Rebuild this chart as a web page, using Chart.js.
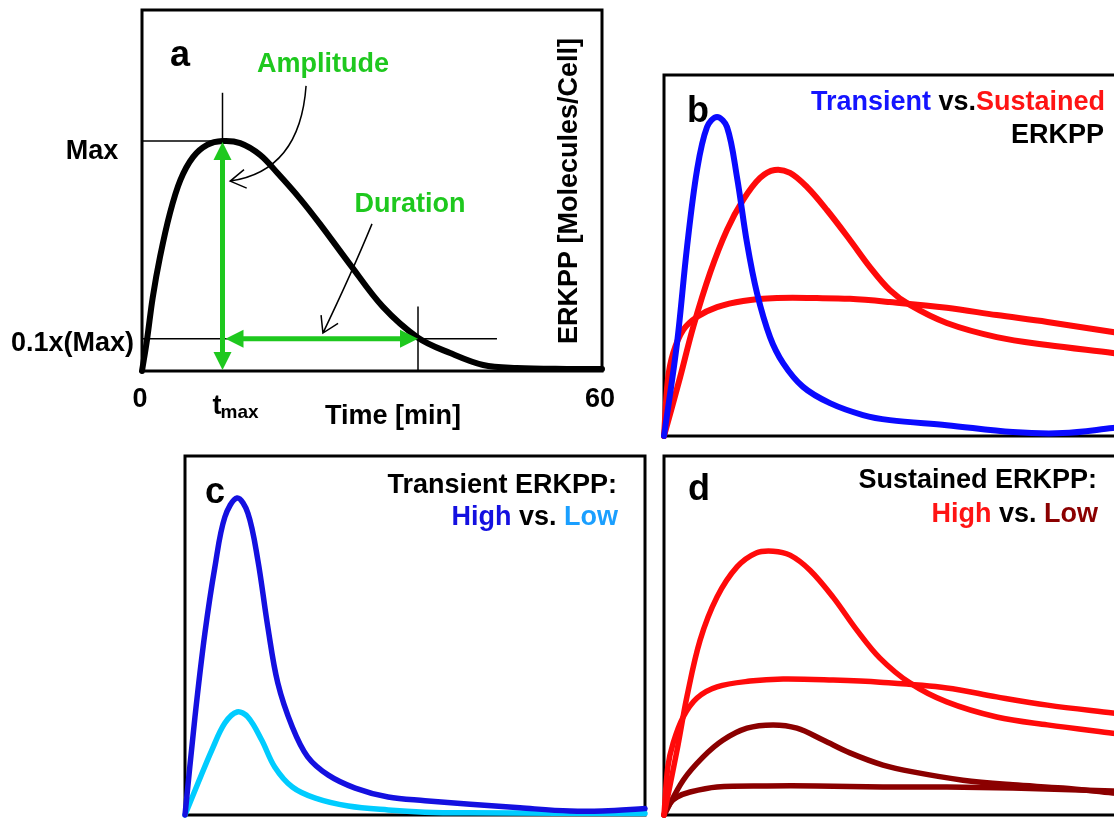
<!DOCTYPE html>
<html lang="en">
<head>
<meta charset="UTF-8">
<title>ERKPP dynamics</title>
<script src="https://cdn.jsdelivr.net/npm/chart.js"></script>
<style>
  html, body { margin: 0; padding: 0; background: #fff; overflow: hidden; width: 1114px; height: 818px; }
  canvas { position: absolute; }
</style>
</head>
<body>
<canvas id="panelA"></canvas>
<canvas id="panelB"></canvas>
<canvas id="panelC"></canvas>
<canvas id="panelD"></canvas>
<script>

// panel a: generic response (Max = 100)
const aTime = [0, 0.65, 1.4, 2.35, 3.65, 5, 6.65, 8.5, 10.5, 12.8, 15.4, 17.7, 20.6, 23.2, 27.1, 31.4, 36, 40.2, 44.5, 48.9, 55.4, 60];
const aErk  = [0, 13.5, 32, 49.6, 68.7, 83, 93, 98.3, 100, 99.1, 94, 86, 75, 64, 46.5, 28, 14.5, 7.8, 2.6, 1.3, 0.9, 0.9];
const aTmax = 10.5;
const aMax = 100;
const aThreshold = 14;
const aDurationEnd = 36;
const aTickLabels = ['0', '60'];
const aLevelLabels = ['Max', '0.1x(Max)'];

// panel b: transient vs sustained
const bBlueTime = [0, 1.7, 3.0, 4.3, 5.6, 6.9, 8.2, 9.5, 10.8, 12.1, 13.8, 15.5, 18.1, 21.6, 25.9, 29.4, 36.8, 45.4, 51.9, 58.4, 60];
const bBlue     = [0, 25.8, 52.4, 73.7, 85.6, 88.4, 85.6, 71.7, 53.5, 39.6, 27.4, 20.2, 13.6, 9.1, 5.8, 4.4, 3.0, 1.1, 0.8, 2.2, 2.6];
const bRedPeakTime = [0, 2.1, 3.8, 6.0, 8.2, 10.3, 12.5, 14.4, 16.4, 18.6, 21.2, 24.2, 26.8, 29.4, 32.0, 36.8, 43.3, 49.9, 58.4, 60];
const bRedPeak     = [0, 16.3, 30.2, 45.2, 57.1, 65.4, 71.5, 73.7, 72.9, 69.0, 62.6, 54.3, 46.8, 40.4, 36.3, 31.3, 27.4, 25.2, 23.0, 22.5];
const bRedFlatTime = [0, 0.5, 1.2, 2.5, 4.3, 6.9, 10.3, 14.7, 19.9, 24.2, 29.4, 36.8, 43.3, 49.9, 58.4, 60];
const bRedFlat     = [0, 15.5, 23.0, 29.4, 33.0, 35.7, 37.4, 38.2, 38.2, 38.0, 37.1, 35.5, 33.5, 31.6, 28.8, 28.3];

// panel c: transient high vs low
const cHighTime = [0, 1.3, 2.6, 3.9, 5.2, 6.8, 8.2, 9.5, 10.8, 12.1, 14.0, 16.0, 18.7, 22.2, 26.5, 31.3, 37.2, 43.7, 50.2, 54.5, 60];
const cHigh     = [0, 27.3, 50.7, 69.1, 83.0, 88.3, 84.1, 71.0, 52.4, 36.8, 24.5, 16.2, 11.1, 7.5, 5.0, 4.0, 3.0, 2.0, 1.1, 1.1, 1.8];
const cLowTime = [0, 1.7, 3.5, 5.2, 6.8, 8.2, 10.0, 11.7, 14.0, 17.0, 21.3, 26.5, 31.3, 37.2, 60];
const cLow     = [0, 8.9, 18.1, 25.6, 28.7, 27.3, 20.9, 13.4, 7.8, 4.7, 2.5, 1.4, 0.8, 0.6, 0.4];

// panel d: sustained high vs low
const dHighPeakTime = [0, 1.7, 3.0, 4.7, 6.9, 9.5, 12.0, 14.2, 16.4, 19.0, 22.0, 25.1, 28.1, 32.0, 36.8, 43.3, 49.9, 58.4, 60];
const dHighPeak     = [0, 18.1, 33.1, 48.7, 60.7, 69.1, 73.0, 73.5, 72.4, 68.2, 60.7, 51.5, 43.7, 36.8, 31.5, 27.3, 25.1, 22.8, 22.4];
const dHighFlatTime = [0, 0.5, 1.2, 2.5, 4.3, 6.9, 11.2, 15.5, 22.0, 28.1, 36.8, 43.3, 49.9, 58.4, 60];
const dHighFlat     = [0, 13.4, 20.1, 27.3, 32.6, 35.7, 37.3, 37.9, 37.6, 37.0, 35.4, 32.9, 30.6, 28.4, 28.0];
const dLowPeakTime = [0, 2.5, 5.1, 7.7, 10.8, 14.2, 17.3, 20.7, 24.2, 28.5, 32.4, 38.9, 45.4, 51.9, 58.4, 60];
const dLowPeak     = [0, 9.7, 16.2, 20.9, 24.2, 25.1, 24.2, 20.9, 17.3, 13.9, 12.0, 9.7, 8.4, 7.5, 6.1, 5.8];
const dLowFlatTime = [0, 0.8, 1.7, 3.4, 6.9, 13.4, 19.9, 28.5, 36.8, 45.4, 58.4, 60];
const dLowFlat     = [0, 3.3, 5.0, 6.4, 7.8, 8.1, 8.1, 7.8, 7.8, 7.5, 6.7, 6.6];

const FONT = '"Liberation Sans", Arial, sans-serif';
const GREEN = '#1ec81e';

function pts(xs, ys) {
  return xs.map((x, i) => ({ x: x, y: ys[i] }));
}

function curve(xs, ys, color, width) {
  return {
    data: pts(xs, ys),
    borderColor: color,
    borderWidth: width,
    borderJoinStyle: 'round',
    borderCapStyle: 'round',
    pointRadius: 0,
    tension: 0.35,
    fill: false,
    clip: false
  };
}

function label(ctx, off, str, x, y, size, color, align) {
  ctx.font = 'bold ' + size + 'px ' + FONT;
  ctx.fillStyle = color || '#000';
  ctx.textAlign = align || 'left';
  ctx.textBaseline = 'alphabetic';
  ctx.fillText(str, x - off.x, y - off.y);
}

// several coloured pieces on one line, right aligned
function richRight(ctx, off, parts, right, y, size) {
  ctx.font = 'bold ' + size + 'px ' + FONT;
  ctx.textAlign = 'left';
  ctx.textBaseline = 'alphabetic';
  let x = right - off.x;
  for (let i = parts.length - 1; i >= 0; i--) {
    x -= ctx.measureText(parts[i][0]).width;
    ctx.fillStyle = parts[i][1];
    ctx.fillText(parts[i][0], x, y - off.y);
  }
}

function thin(ctx, x1, y1, x2, y2) {
  ctx.strokeStyle = '#000';
  ctx.lineWidth = 1.5;
  ctx.beginPath();
  ctx.moveTo(x1, y1);
  ctx.lineTo(x2, y2);
  ctx.stroke();
}

function solidHead(ctx, fx, fy, tx, ty, len, half) {
  const a = Math.atan2(ty - fy, tx - fx);
  const bx = tx - len * Math.cos(a), by = ty - len * Math.sin(a);
  ctx.beginPath();
  ctx.moveTo(tx, ty);
  ctx.lineTo(bx + half * Math.sin(a), by - half * Math.cos(a));
  ctx.lineTo(bx - half * Math.sin(a), by + half * Math.cos(a));
  ctx.closePath();
  ctx.fill();
}

function doubleArrow(ctx, x1, y1, x2, y2) {
  const a = Math.atan2(y2 - y1, x2 - x1), L = 14;
  ctx.strokeStyle = GREEN;
  ctx.fillStyle = GREEN;
  ctx.lineWidth = 5;
  ctx.beginPath();
  ctx.moveTo(x1 + L * Math.cos(a), y1 + L * Math.sin(a));
  ctx.lineTo(x2 - L * Math.cos(a), y2 - L * Math.sin(a));
  ctx.stroke();
  solidHead(ctx, x2, y2, x1, y1, 18, 9);
  solidHead(ctx, x1, y1, x2, y2, 18, 9);
}

function curvedArrow(ctx, p0, c, p1) {
  ctx.strokeStyle = '#000';
  ctx.lineWidth = 1.5;
  ctx.beginPath();
  ctx.moveTo(p0[0], p0[1]);
  ctx.quadraticCurveTo(c[0], c[1], p1[0], p1[1]);
  const a = Math.atan2(p1[1] - c[1], p1[0] - c[0]);
  const w = 0.55, len = 18;
  ctx.moveTo(p1[0] - len * Math.cos(a - w), p1[1] - len * Math.sin(a - w));
  ctx.lineTo(p1[0], p1[1]);
  ctx.lineTo(p1[0] - len * Math.cos(a + w), p1[1] - len * Math.sin(a + w));
  ctx.stroke();
}

const frame = {
  id: 'frame',
  beforeDatasetsDraw(chart) {
    const a = chart.chartArea, ctx = chart.ctx;
    ctx.save();
    ctx.strokeStyle = '#000';
    ctx.lineWidth = 3;
    ctx.strokeRect(a.left, a.top, a.right - a.left, a.bottom - a.top);
    ctx.restore();
  }
};

// canvas at (left, top) in page pixels, plot box given as [x0, y0, x1, y1]
function makePanel(id, left, top, width, height, box, yMax, datasets, decorate) {
  const cv = document.getElementById(id);
  cv.width = width;
  cv.height = height;
  cv.style.left = left + 'px';
  cv.style.top = top + 'px';
  const off = { x: left, y: top };
  return new Chart(cv, {
    type: 'line',
    data: { datasets: datasets },
    options: {
      responsive: false,
      animation: false,
      events: [],
      layout: {
        padding: {
          left: box[0] - left,
          top: box[1] - top,
          right: left + width - box[2],
          bottom: top + height - box[3]
        }
      },
      scales: {
        x: { type: 'linear', min: 0, max: 60, display: false },
        y: { type: 'linear', min: 0, max: yMax, display: false }
      },
      plugins: { legend: { display: false }, tooltip: { enabled: false } }
    },
    plugins: [frame, {
      id: 'decor',
      afterDatasetsDraw(chart) {
        const ctx = chart.ctx;
        ctx.save();
        decorate(ctx, chart.scales.x, chart.scales.y, off);
        ctx.restore();
      }
    }]
  });
}

// ---- panel a ----
makePanel('panelA', 0, 0, 620, 440, [142, 10, 602, 371], 157,
  [curve(aTime, aErk, '#000', 6)],
  function (ctx, sx, sy, off) {
    const xT = sx.getPixelForValue(aTmax);
    const xE = sx.getPixelForValue(aDurationEnd);
    const yMax = sy.getPixelForValue(aMax);
    const yThr = sy.getPixelForValue(aThreshold);
    const y0 = sy.getPixelForValue(0);

    // guide lines
    thin(ctx, sx.getPixelForValue(0), yMax, xT, yMax);
    thin(ctx, xT, sy.getPixelForValue(121), xT, yMax);
    thin(ctx, sx.getPixelForValue(0), yThr, sx.getPixelForValue(46.3), yThr);
    thin(ctx, xE, sy.getPixelForValue(28), xE, y0);

    // amplitude and duration
    doubleArrow(ctx, xT, yMax + 1, xT, y0 - 1);
    doubleArrow(ctx, xT + 3, yThr, xE, yThr);

    curvedArrow(ctx,
      [sx.getPixelForValue(21.4), sy.getPixelForValue(124)],
      [sx.getPixelForValue(20.6), sy.getPixelForValue(87)],
      [sx.getPixelForValue(11.5), sy.getPixelForValue(82.6)]);
    curvedArrow(ctx,
      [sx.getPixelForValue(30.0), sy.getPixelForValue(64)],
      [sx.getPixelForValue(27.4), sy.getPixelForValue(43)],
      [sx.getPixelForValue(23.6), sy.getPixelForValue(16.5)]);

    label(ctx, off, 'a', 170, 66, 36);
    label(ctx, off, 'Amplitude', 323, 72, 27, GREEN, 'center');
    label(ctx, off, 'Duration', 410, 212, 27, GREEN, 'center');

    label(ctx, off, aLevelLabels[0], 92, yMax + 18 + off.y, 27, '#000', 'center');
    label(ctx, off, aLevelLabels[1], 134, yThr + 12 + off.y, 27, '#000', 'right');

    label(ctx, off, aTickLabels[0], sx.getPixelForValue(0) - 2 + off.x, 407, 27, '#000', 'center');
    label(ctx, off, aTickLabels[1], sx.getPixelForValue(60) - 2 + off.x, 407, 27, '#000', 'center');
    label(ctx, off, 't', xT - 10 + off.x, 414, 27);
    label(ctx, off, 'max', xT - 2 + off.x, 418, 19);
    label(ctx, off, 'Time [min]', 393, 424, 27, '#000', 'center');

    ctx.save();
    ctx.translate(577 - off.x, 191 - off.y);
    ctx.rotate(-Math.PI / 2);
    label(ctx, { x: 0, y: 0 }, 'ERKPP [Molecules/Cell]', 0, 0, 27, '#000', 'center');
    ctx.restore();
  });

// ---- panel b ----
makePanel('panelB', 630, 60, 520, 390, [664, 75, 1125, 436], 100,
  [
    curve(bBlueTime, bBlue, '#0a0aff', 6),
    curve(bRedPeakTime, bRedPeak, '#ff0a0a', 6),
    curve(bRedFlatTime, bRedFlat, '#ff0a0a', 6)
  ],
  function (ctx, sx, sy, off) {
    label(ctx, off, 'b', 687, 122, 36);
    richRight(ctx, off, [['Transient', '#1414ff'], [' vs.', '#000'], ['Sustained', '#ff1414']], 1105, 110, 27);
    label(ctx, off, 'ERKPP', 1104, 143, 27, '#000', 'right');
  });

// ---- panel c ----
makePanel('panelC', 170, 446, 490, 372, [185, 456, 645, 815], 100,
  [
    curve(cHighTime, cHigh, '#1410e0', 5.5),
    curve(cLowTime, cLow, '#00ccff', 5.5)
  ],
  function (ctx, sx, sy, off) {
    label(ctx, off, 'c', 205, 503, 36);
    label(ctx, off, 'Transient ERKPP:', 617, 493, 27, '#000', 'right');
    richRight(ctx, off, [['High', '#1410e0'], [' vs. ', '#000'], ['Low', '#1a9fff']], 618, 525, 27);
  });

// ---- panel d ----
makePanel('panelD', 650, 446, 500, 372, [664, 456, 1125, 815], 100,
  [
    curve(dHighPeakTime, dHighPeak, '#ff0a0a', 5.5),
    curve(dHighFlatTime, dHighFlat, '#ff0a0a', 5.5),
    curve(dLowPeakTime, dLowPeak, '#8b0000', 5.5),
    curve(dLowFlatTime, dLowFlat, '#8b0000', 5.5)
  ],
  function (ctx, sx, sy, off) {
    label(ctx, off, 'd', 688, 500, 36);
    label(ctx, off, 'Sustained ERKPP:', 1097, 488, 27, '#000', 'right');
    richRight(ctx, off, [['High', '#ff1414'], [' vs. ', '#000'], ['Low', '#8b0000']], 1098, 522, 27);
  });
</script>
</body>
</html>
